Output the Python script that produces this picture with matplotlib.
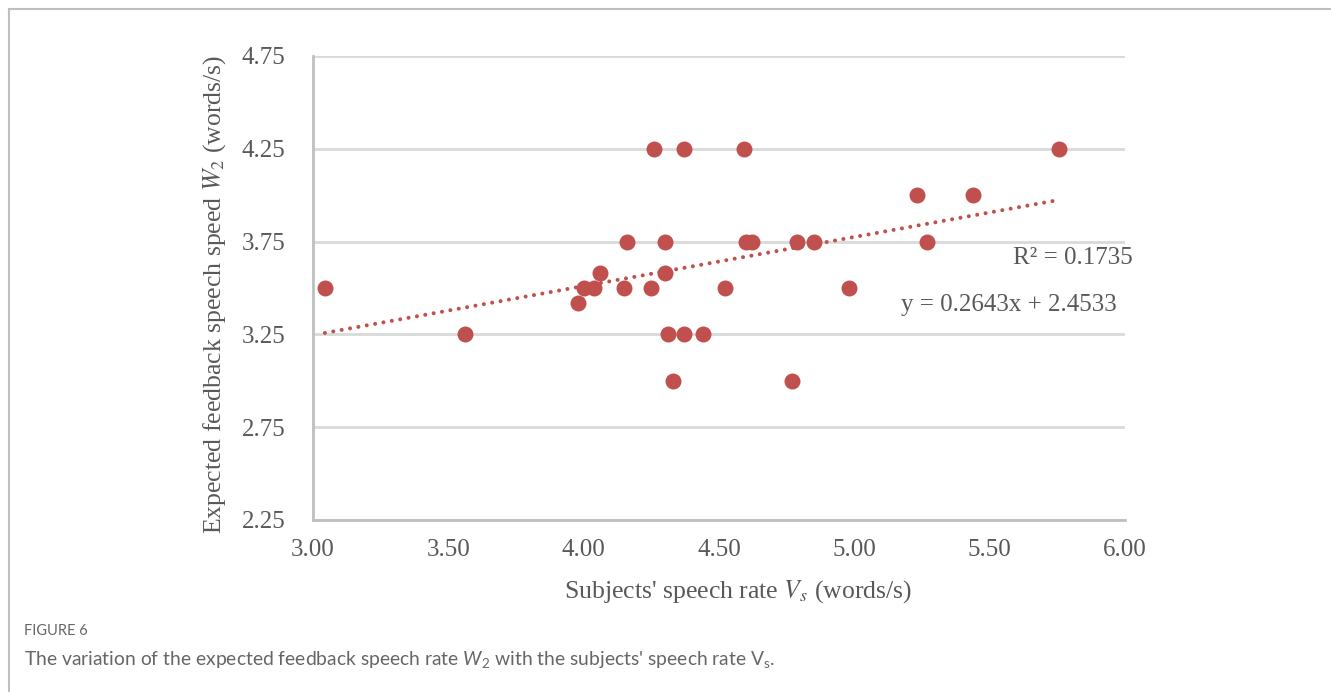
import numpy as np
import matplotlib
matplotlib.use("Agg")
import matplotlib.pyplot as plt
from matplotlib.lines import Line2D

# speech rate of subjects Vs (words/s) and expected feedback rate W2 (words/s)
vs = [3.044, 3.563, 3.98, 4.001, 4.040, 4.061, 4.150, 4.160, 4.249, 4.259,
      4.300, 4.300, 4.310, 4.330, 4.371, 4.371, 4.441, 4.521, 4.591, 4.600,
      4.621, 4.770, 4.789, 4.850, 4.980, 5.230, 5.268, 5.440, 5.758]
w2 = [3.50, 3.25, 3.42, 3.50, 3.50, 3.58, 3.50, 3.75, 3.50, 4.25,
      3.75, 3.58, 3.25, 3.00, 4.25, 3.25, 3.25, 3.50, 4.25, 3.75,
      3.75, 3.00, 3.75, 3.75, 3.50, 4.00, 3.75, 4.00, 4.25]

# linear trendline as printed on the chart
slope = 0.2643
intercept = 2.4533
r2 = 0.1735

x_ticks = [3.00, 3.50, 4.00, 4.50, 5.00, 5.50, 6.00]
y_ticks = [2.25, 2.75, 3.25, 3.75, 4.25, 4.75]

RED = "#C0504D"
TXT = "#595959"
SERIF = "Liberation Serif"

plt.rcParams["mathtext.fontset"] = "custom"
plt.rcParams["mathtext.it"] = "Lato:italic"
plt.rcParams["mathtext.rm"] = "Lato"

fig = plt.figure(figsize=(13.31, 6.92), dpi=100)
ax = fig.add_axes([313/1331, 1 - 520/692, (1125-313)/1331, (520-56)/692])

ax.plot(vs, w2, "o", color=RED, markersize=11.5, markeredgewidth=0, zorder=3)

xt = np.array([min(vs), max(vs)])
ax.plot(xt, slope*xt + intercept, color=RED, linewidth=2.9,
        linestyle=(0, (0.01, 2.1)), dash_capstyle="round", zorder=2)

ax.set_xlim(3.0, 6.0)
ax.set_ylim(2.25, 4.75)
ax.set_xticks(x_ticks)
ax.set_yticks(y_ticks)
ax.set_xticklabels([f"{t:.2f}" for t in x_ticks])
ax.set_yticklabels([f"{t:.2f}" for t in y_ticks])
ax.tick_params(length=0, labelsize=18, labelcolor=TXT)
ax.tick_params(axis="y", pad=20)
ax.tick_params(axis="x", pad=14)
for lab in ax.get_xticklabels() + ax.get_yticklabels():
    lab.set_fontfamily(SERIF)

ax.grid(axis="y", color="#D9D9D9", linewidth=2)
ax.set_axisbelow(True)
for s in ["top", "right"]:
    ax.spines[s].set_visible(False)
for s in ["left", "bottom"]:
    ax.spines[s].set_color("#BFBFBF")
    ax.spines[s].set_linewidth(2)

ax.set_xlabel(r"Subjects' speech rate $V_s$ (words/s)", fontsize=18.5,
              color=TXT, family=SERIF, math_fontfamily="stix", va="center")
ax.set_ylabel(r"Expected feedback speech speed $W_2$ (words/s)", fontsize=18.5,
              color=TXT, family=SERIF, math_fontfamily="stix", va="center")
ax.xaxis.set_label_coords((738-313)/812, (520-592)/464)
ax.yaxis.set_label_coords((215-313)/812, (520-294)/464)

ax.text(1133/1331, 1 - 258/692, f"R\u00b2 = {r2:.4f}", transform=fig.transFigure,
        ha="right", va="center", fontsize=18, color=TXT, family=SERIF)
ax.text(1117/1331, 1 - 305/692, f"y = {slope:.4f}x + {intercept:.4f}",
        transform=fig.transFigure, ha="right", va="center", fontsize=18,
        color=TXT, family=SERIF)

# page frame and caption
fig.add_artist(Line2D([9/1331, 1], [1 - 9/692]*2, color="#BFBFBF", linewidth=1.5))
fig.add_artist(Line2D([9/1331]*2, [0, 1 - 9/692], color="#BFBFBF", linewidth=1.5))

fig.text(24/1331, 1 - 631/692, "FIGURE 6", fontsize=10.5, color="#666666",
         family="Lato", va="center")
fig.text(24/1331, 1 - 660/692,
         r"The variation of the expected feedback speech rate $W_2$ with the subjects' speech rate $\mathrm{V}_\mathrm{s}$.",
         fontsize=13.9, color="#666666", family="Lato", va="center",
         math_fontfamily="custom")

fig.savefig("out.png", dpi=100)
